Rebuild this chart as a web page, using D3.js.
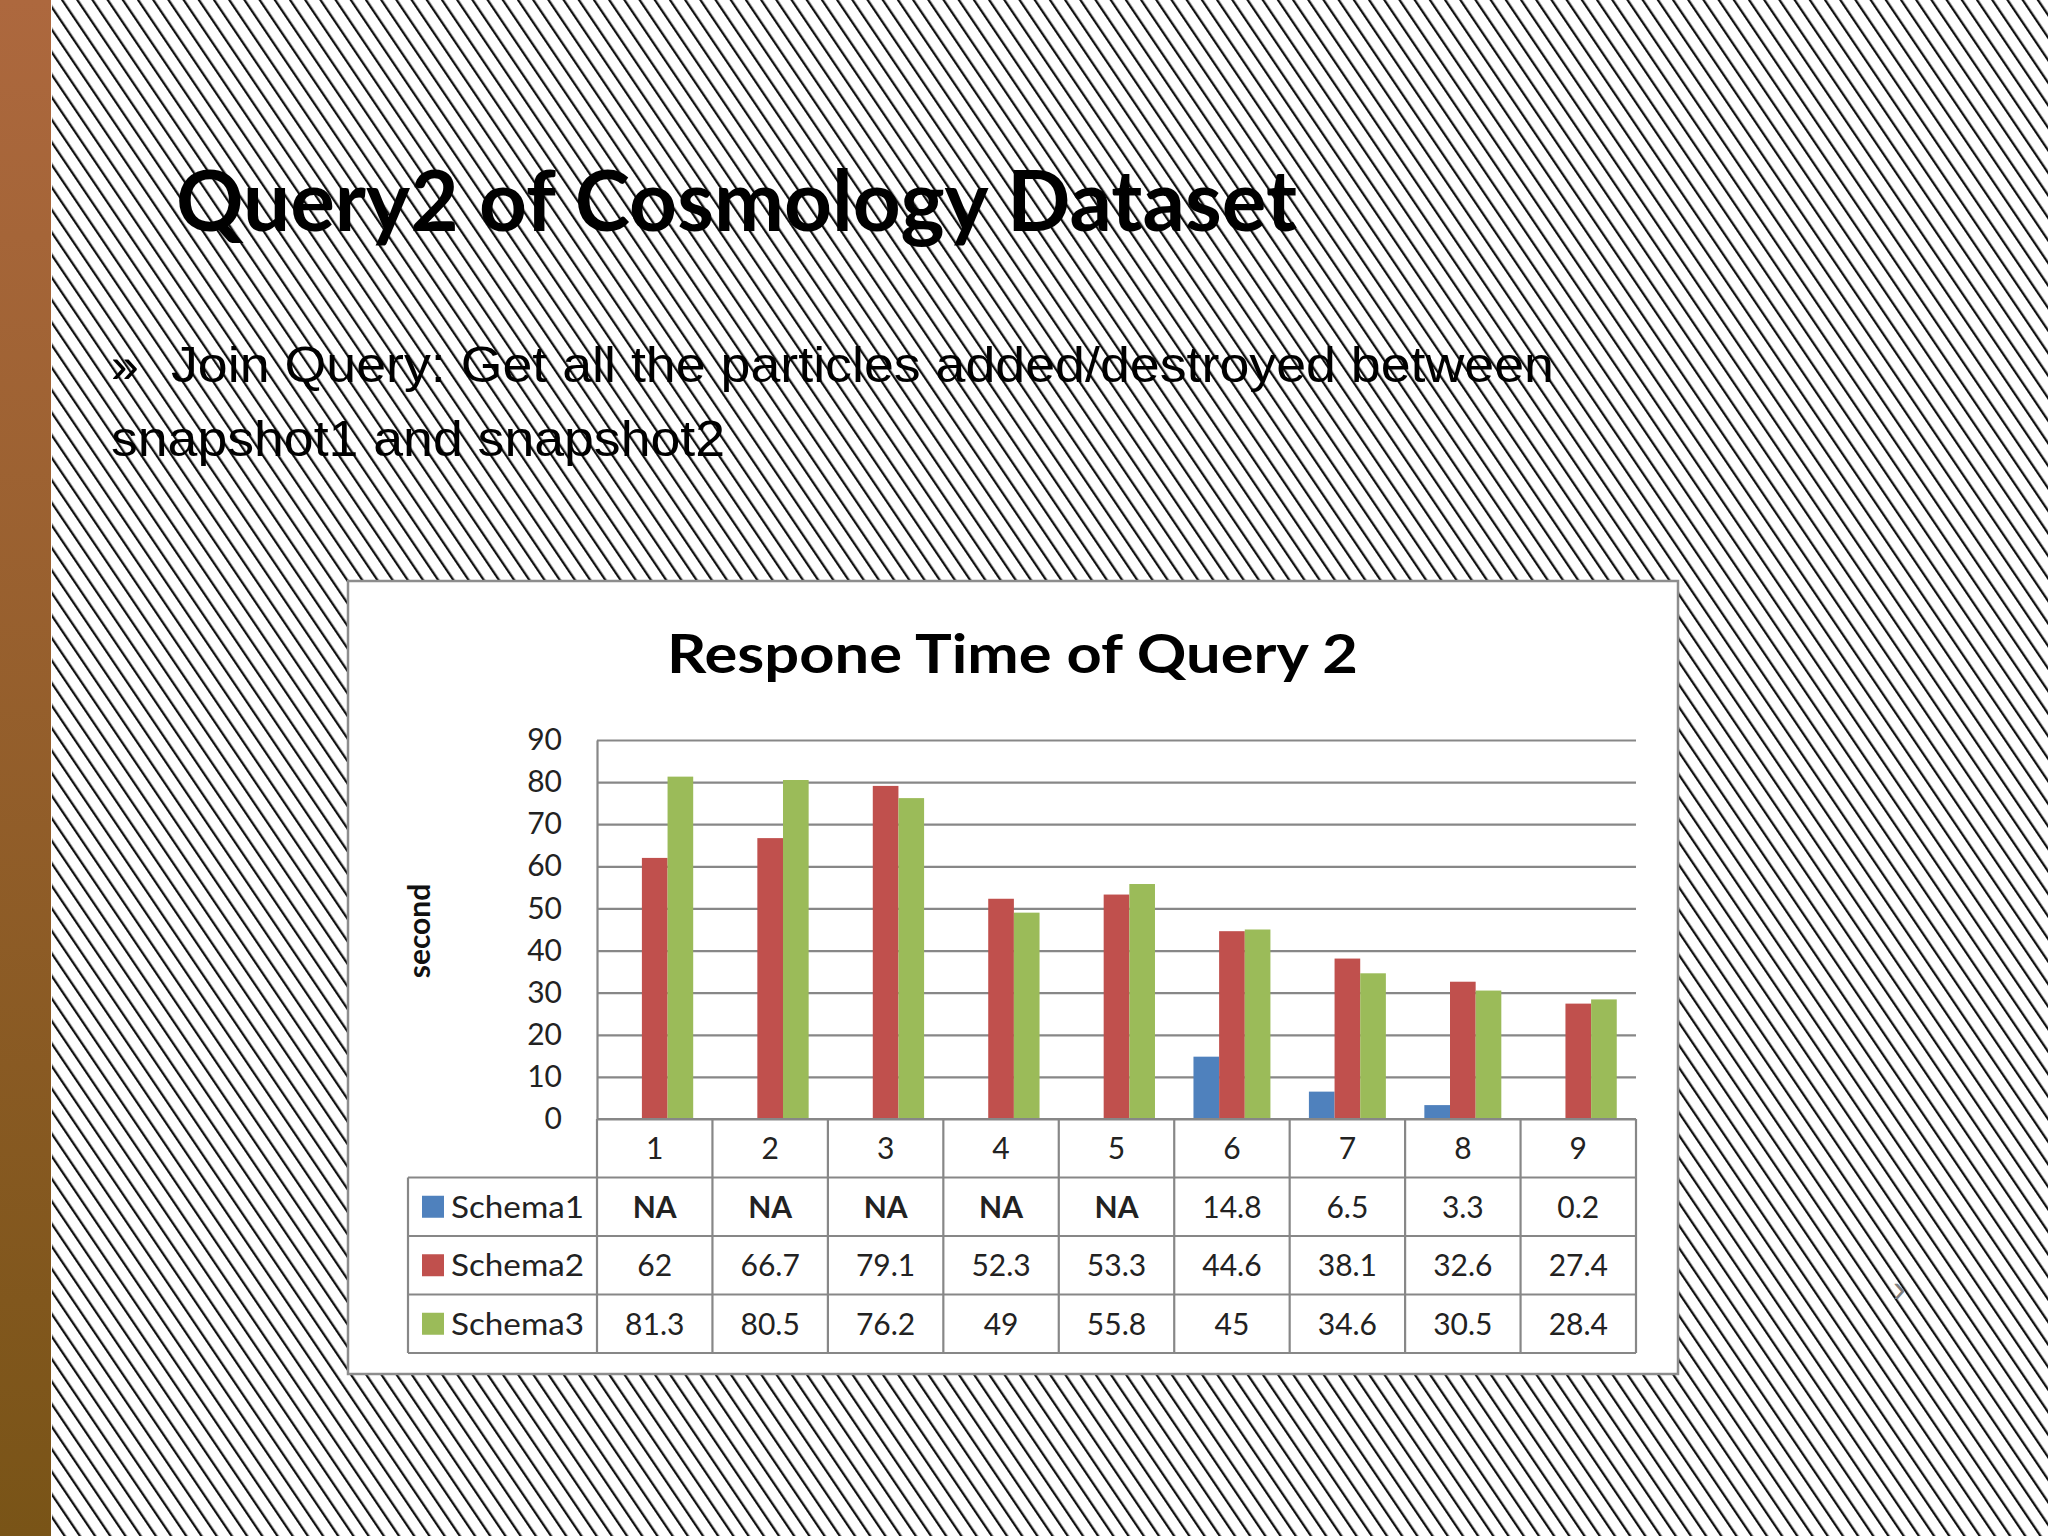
<!DOCTYPE html>
<html><head><meta charset="utf-8">
<script src="https://cdn.jsdelivr.net/npm/d3@7"></script>
<style>body{margin:0;background:#fff}</style></head>
<body><svg id="c" width="2048" height="1536"></svg>
<script>
const categories = ["1","2","3","4","5","6","7","8","9"];
const seriesNames = ["Schema1","Schema2","Schema3"];
const schema1 = [null,null,null,null,null,14.8,6.5,3.3,0.2];
const schema2 = [62,66.7,79.1,52.3,53.3,44.6,38.1,32.6,27.4];
const schema3 = [81.3,80.5,76.2,49,55.8,45,34.6,30.5,28.4];
const yTicks = [0,10,20,30,40,50,60,70,80,90];
const seriesColors = ["#4F81BD","#C0504D","#9BBB59"];
const slideTitle = "Query2 of Cosmology Dataset";
const bulletMark = "»";
const bulletLine1 = "Join Query: Get all the particles added/destroyed between";
const bulletLine2 = "snapshot1 and snapshot2";
const chartTitle = "Respone Time of Query 2";
const yLabel = "second";

const seriesValues = [schema1, schema2, schema3];
const svg = d3.select("#c");
const defs = svg.append("defs");
const grad = defs.append("linearGradient").attr("id","brown").attr("x1",0).attr("y1",0).attr("x2",0).attr("y2",1);
grad.append("stop").attr("offset","0%").attr("stop-color","#AD683E");
grad.append("stop").attr("offset","100%").attr("stop-color","#795417");
const pat = defs.append("pattern").attr("id","stripes").attr("patternUnits","userSpaceOnUse")
  .attr("width",12.6).attr("height",40).attr("patternTransform","rotate(-34)");
pat.append("rect").attr("x",0).attr("y",0).attr("width",2.3).attr("height",40).attr("fill","#111");

// page background
svg.append("rect").attr("x",0).attr("y",0).attr("width",2048).attr("height",1536).attr("fill","#fff");
svg.append("rect").attr("x",52).attr("y",0).attr("width",1996).attr("height",1536).attr("fill","url(#stripes)");
svg.append("rect").attr("x",0).attr("y",0).attr("width",51).attr("height",1536).attr("fill","url(#brown)");

// slide title
svg.append("text").attr("x",176).attr("y",231).attr("font-family","Lato, 'Open Sans', sans-serif")
  .attr("font-weight",700).attr("font-size",84).attr("fill","#000")
  .attr("textLength",1121).attr("lengthAdjust","spacingAndGlyphs").text(slideTitle);

// bullet text
const bf = "'Liberation Sans', Arial, sans-serif";
svg.append("text").attr("x",111).attr("y",382).attr("font-family",bf).attr("font-size",50).attr("fill","#000").text(bulletMark);
svg.append("text").attr("x",171).attr("y",382).attr("font-family",bf).attr("font-size",50).attr("fill","#000")
  .attr("textLength",1383).attr("lengthAdjust","spacingAndGlyphs").text(bulletLine1);
svg.append("text").attr("x",111).attr("y",456).attr("font-family",bf).attr("font-size",50).attr("fill","#000")
  .attr("textLength",614).attr("lengthAdjust","spacingAndGlyphs").text(bulletLine2);

// chart box
svg.append("rect").attr("x",348).attr("y",581).attr("width",1330).attr("height",793)
  .attr("fill","#fff").attr("stroke","#8d8d8d").attr("stroke-width",2.5);

const cf = "Lato, 'Open Sans', sans-serif";
svg.append("text").attr("x",667).attr("y",673).attr("font-family",cf).attr("font-weight",700)
  .attr("font-size",54).attr("fill","#000").attr("textLength",691).attr("lengthAdjust","spacingAndGlyphs").text(chartTitle);

const plotL = 597, plotR = 1636, plotT = 740, plotB = 1119;
const y = d3.scaleLinear().domain([0,90]).range([plotB, plotT]);
const x0 = d3.scaleBand().domain(categories).range([plotL, plotR]);
const x1 = d3.scaleBand().domain(seriesNames).range([0, x0.bandwidth()]).paddingOuter(0.75).paddingInner(0);
const gridCol = "#878787";

const yAxis = d3.axisLeft(y).tickValues(yTicks).tickSize(-(plotR-plotL)).tickSizeOuter(0).tickPadding(35);
const ga = svg.append("g").attr("transform",`translate(${plotL},0)`).call(yAxis);
ga.selectAll(".tick line").attr("stroke",gridCol).attr("stroke-width",2.2);
ga.select(".domain").attr("stroke",gridCol).attr("stroke-width",2.2);
ga.selectAll(".tick text").attr("font-family",cf).attr("font-size",30).attr("fill","#222");

svg.append("text").attr("transform","translate(418,931) rotate(-90)").attr("text-anchor","middle")
  .attr("dominant-baseline","central").attr("font-family",cf).attr("font-weight",700).attr("font-size",30)
  .attr("fill","#111").text(yLabel);

// bars
const barData = [];
seriesNames.forEach((s, si) => {
  categories.forEach((c, ci) => {
    const v = seriesValues[si][ci];
    if (v !== null) barData.push({s, si, c, v});
  });
});
svg.append("g").selectAll("rect").data(barData).join("rect")
  .attr("x", d => x0(d.c) + x1(d.s))
  .attr("width", x1.bandwidth())
  .attr("y", d => y(d.v))
  .attr("height", d => plotB - y(d.v))
  .attr("fill", d => seriesColors[d.si]);

// data table
const rowH = 58.5, legendL = 408;
const tb = svg.append("g");
const tableBottom = plotB + 4*rowH;
for (let i = 1; i <= 4; i++) {
  tb.append("line").attr("x1",legendL).attr("x2",plotR).attr("y1",plotB+i*rowH).attr("y2",plotB+i*rowH)
    .attr("stroke",gridCol).attr("stroke-width",2.2);
}
tb.append("line").attr("x1",plotL).attr("x2",plotR).attr("y1",plotB).attr("y2",plotB).attr("stroke",gridCol).attr("stroke-width",2.2);
categories.forEach(c => {
  tb.append("line").attr("x1",x0(c)).attr("x2",x0(c)).attr("y1",plotB).attr("y2",tableBottom).attr("stroke",gridCol).attr("stroke-width",2.2);
});
tb.append("line").attr("x1",plotR).attr("x2",plotR).attr("y1",plotB).attr("y2",tableBottom).attr("stroke",gridCol).attr("stroke-width",2.2);
tb.append("line").attr("x1",legendL).attr("x2",legendL).attr("y1",plotB+rowH).attr("y2",tableBottom).attr("stroke",gridCol).attr("stroke-width",2.2);

tb.selectAll("text.hdr").data(categories).join("text").attr("class","hdr")
  .attr("x", c => x0(c) + x0.bandwidth()/2).attr("y", plotB + rowH/2 + 11)
  .attr("text-anchor","middle").attr("font-family",cf).attr("font-size",30).attr("fill","#222").text(c => c);

seriesNames.forEach((s, si) => {
  const cy = plotB + (si+1)*rowH + rowH/2;
  tb.append("rect").attr("x",422).attr("y",cy-11).attr("width",22).attr("height",22).attr("fill",seriesColors[si]);
  tb.append("text").attr("x",451).attr("y",cy+11).attr("font-family",cf).attr("font-size",30).attr("fill","#222")
    .attr("textLength",133).attr("lengthAdjust","spacingAndGlyphs").text(s);
  tb.selectAll(null).data(categories).join("text")
    .attr("x", c => x0(c) + x0.bandwidth()/2).attr("y", cy + 11)
    .attr("text-anchor","middle").attr("font-family",cf).attr("font-size",30)
    .attr("font-weight", (c, ci) => seriesValues[si][ci] === null ? 700 : 400)
    .attr("fill","#222")
    .text((c, ci) => seriesValues[si][ci] === null ? "NA" : String(seriesValues[si][ci]));
});

// slide chevron
svg.append("text").attr("x",1893).attr("y",1302).attr("font-family",bf).attr("font-size",38).attr("fill","#808080").text("›");
</script></body></html>
